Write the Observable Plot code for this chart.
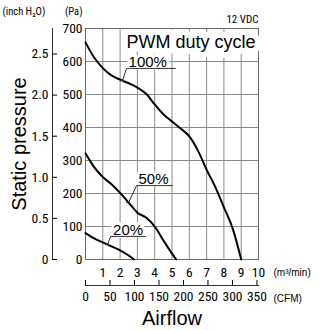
<!DOCTYPE html>
<html>
<head>
<meta charset="utf-8">
<script src="https://cdn.jsdelivr.net/npm/d3@7"></script>
<script src="https://cdn.jsdelivr.net/npm/@observablehq/plot@0.6"></script>
<style>
  body { margin: 0; background: #fff; }
  #chart svg { display: block; }
</style>
</head>
<body>
<div id="chart"></div>
<script>
// Unit conversions for the secondary axes
const PA_PER_INH2O = 249.089;
const M3MIN_PER_CFM = 0.0283168;

// P-Q curves, airflow in m³/min, static pressure in Pa
const flow100 = [0, 0.5, 1.0, 1.5, 2.0, 2.5, 3.0, 3.5, 4.0, 4.5, 5.0, 5.5, 6.0, 6.5, 7.0, 7.5, 8.0, 8.5, 9.0];
const pressure100 = [658, 612, 580, 558, 545, 534, 521, 502, 470, 440, 418, 397, 373, 330, 272, 220, 158, 95, 0];

const flow50 = [0, 0.5, 1.0, 1.5, 2.0, 2.5, 3.0, 3.5, 4.0, 4.5, 5.0, 5.25];
const pressure50 = [322, 280, 250, 228, 202, 172, 142, 127, 100, 58, 18, 0];

const flow20 = [0, 0.5, 1.0, 1.5, 2.0, 2.5, 2.8];
const pressure20 = [80, 64, 52, 40, 28, 12, 0];

const dutyCycles = ["100%", "50%", "20%"];

// Callout positions: label centre, underline height and extent, arrow tip on the curve
const labelFlow = [3.6, 3.93, 2.46];
const underlinePa = [579, 224, 70];
const underlineFrom = [2.37, 2.95, 1.45];
const underlineTo = [5.2, 5.03, 3.47];
const tipFlow = [2.14, 2.49, 1.27];

// Axis ticks
const paTicks = [0, 100, 200, 300, 400, 500, 600, 700];
const inchTicks = [0, 0.5, 1.0, 1.5, 2.0, 2.5];
const m3Ticks = [1, 2, 3, 4, 5, 6, 7, 8, 9, 10];
const cfmTicks = [0, 50, 100, 150, 200, 250, 300, 350];

const curves = [
  {duty: dutyCycles[0], flow: flow100, pressure: pressure100},
  {duty: dutyCycles[1], flow: flow50, pressure: pressure50},
  {duty: dutyCycles[2], flow: flow20, pressure: pressure20}
];
const points = curves.flatMap(c => c.flow.map((f, i) => ({duty: c.duty, flow: f, pressure: c.pressure[i]})));

// pressure on a curve at a given flow (linear between readings)
function pressureAt(c, f) {
  for (let i = 1; i < c.flow.length; i++) {
    if (f <= c.flow[i]) {
      const t = (f - c.flow[i - 1]) / (c.flow[i] - c.flow[i - 1]);
      return c.pressure[i - 1] + t * (c.pressure[i] - c.pressure[i - 1]);
    }
  }
  return 0;
}

const callouts = dutyCycles.map((d, i) => ({duty: d, flow: labelFlow[i], pressure: underlinePa[i]}));
const leaders = dutyCycles.flatMap((d, i) => [
  {duty: d, flow: tipFlow[i], pressure: pressureAt(curves[i], tipFlow[i])},
  {duty: d, flow: underlineFrom[i], pressure: underlinePa[i]},
  {duty: d, flow: underlineTo[i], pressure: underlinePa[i]}
]);

const numFont = "'Liberation Sans Narrow', 'Roboto Condensed', 'DejaVu Sans Condensed', 'Liberation Sans', sans-serif";
const textFont = "'Liberation Sans', Arial, Helvetica, sans-serif";
const gridColor = "#8a8a8a";

const chart = Plot.plot({
  width: 320,
  height: 330,
  marginLeft: 85,
  marginRight: 62,
  marginTop: 28,
  marginBottom: 71,
  style: {fontFamily: textFont, background: "#fff", color: "#000"},
  x: {domain: [0, 10]},
  y: {domain: [0, 700]},
  marks: [
    Plot.gridX(m3Ticks, {stroke: gridColor, strokeOpacity: 1, strokeWidth: 1}),
    Plot.gridY(paTicks, {stroke: gridColor, strokeOpacity: 1, strokeWidth: 1}),
    Plot.frame({stroke: "#6a6a6a", strokeWidth: 1}),

    // Pa axis
    Plot.axisY({ticks: paTicks, tickSize: 0, tickPadding: 3, fontSize: 13.5, fontFamily: numFont, label: null}),
    // inch H2O axis, offset to the left with inward ticks
    Plot.frame({anchor: "left", dx: -33, stroke: "#333", strokeWidth: 1}),
    Plot.axisY({
      ticks: inchTicks.map(v => v * PA_PER_INH2O),
      tickFormat: d => { const v = Math.round(d / PA_PER_INH2O * 10) / 10; return v === 0 ? "0" : v.toFixed(1); },
      dx: -33, tickSize: -5, tickPadding: 9, fontSize: 13.5, fontFamily: numFont, label: null
    }),
    // m³/min axis
    Plot.axisX({ticks: m3Ticks, tickSize: 0, tickPadding: 8, fontSize: 13.5, fontFamily: numFont, label: null}),
    // CFM axis below it
    Plot.frame({anchor: "bottom", dy: 26, stroke: "#333", strokeWidth: 1}),
    Plot.axisX({
      ticks: cfmTicks.map(v => v * M3MIN_PER_CFM),
      tickFormat: d => String(Math.round(d / M3MIN_PER_CFM)),
      dy: 26, tickSize: -5, tickPadding: 11, fontSize: 13.5, fontFamily: numFont, label: null
    }),

    // curves
    Plot.line(points, {x: "flow", y: "pressure", z: "duty", curve: "monotone-x", stroke: "#000", strokeWidth: 2}),

    // legend caption inside the frame
    Plot.text(["PWM duty cycle"], {
      frameAnchor: "top-right", textAnchor: "end", lineAnchor: "middle", dx: -3, dy: 14,
      fontSize: 18, fill: "#000", stroke: "#fff", strokeWidth: 12, strokeLinejoin: "round", paintOrder: "stroke"
    }),
    // duty cycle callouts
    Plot.text(callouts, {
      x: "flow", y: "pressure", text: "duty", dy: -6.5, fontSize: 15,
      fill: "#000", stroke: "#fff", strokeWidth: 6, strokeLinejoin: "round", paintOrder: "stroke"
    }),
    Plot.line(leaders, {x: "flow", y: "pressure", z: "duty", stroke: "#333", strokeWidth: 1, markerStart: "arrow"}),

    // units and titles
    Plot.text(["(inch H₂O)"], {frameAnchor: "top-left", textAnchor: "start", lineAnchor: "middle", dx: -83, dy: -17, fontSize: 10.5, fontFamily: numFont}),
    Plot.text(["(Pa)"], {frameAnchor: "top-left", textAnchor: "end", lineAnchor: "middle", dx: -3, dy: -17, fontSize: 10.5, fontFamily: numFont}),
    Plot.text(["12 VDC"], {frameAnchor: "top-right", textAnchor: "end", lineAnchor: "middle", dy: -9, fontSize: 11, fontFamily: numFont}),
    Plot.text(["(m³/min)"], {frameAnchor: "bottom-right", textAnchor: "start", lineAnchor: "middle", dx: 15, dy: 13, fontSize: 10}),
    Plot.text(["(CFM)"], {frameAnchor: "bottom-right", textAnchor: "start", lineAnchor: "middle", dx: 15, dy: 39, fontSize: 10}),
    Plot.text(["Airflow"], {frameAnchor: "bottom", textAnchor: "middle", lineAnchor: "middle", dy: 59, fontSize: 20}),
    Plot.text(["Static pressure"], {frameAnchor: "left", textAnchor: "middle", lineAnchor: "middle", rotate: -90, dx: -66, fontSize: 20})
  ]
});

document.getElementById("chart").append(chart);
</script>
</body>
</html>
